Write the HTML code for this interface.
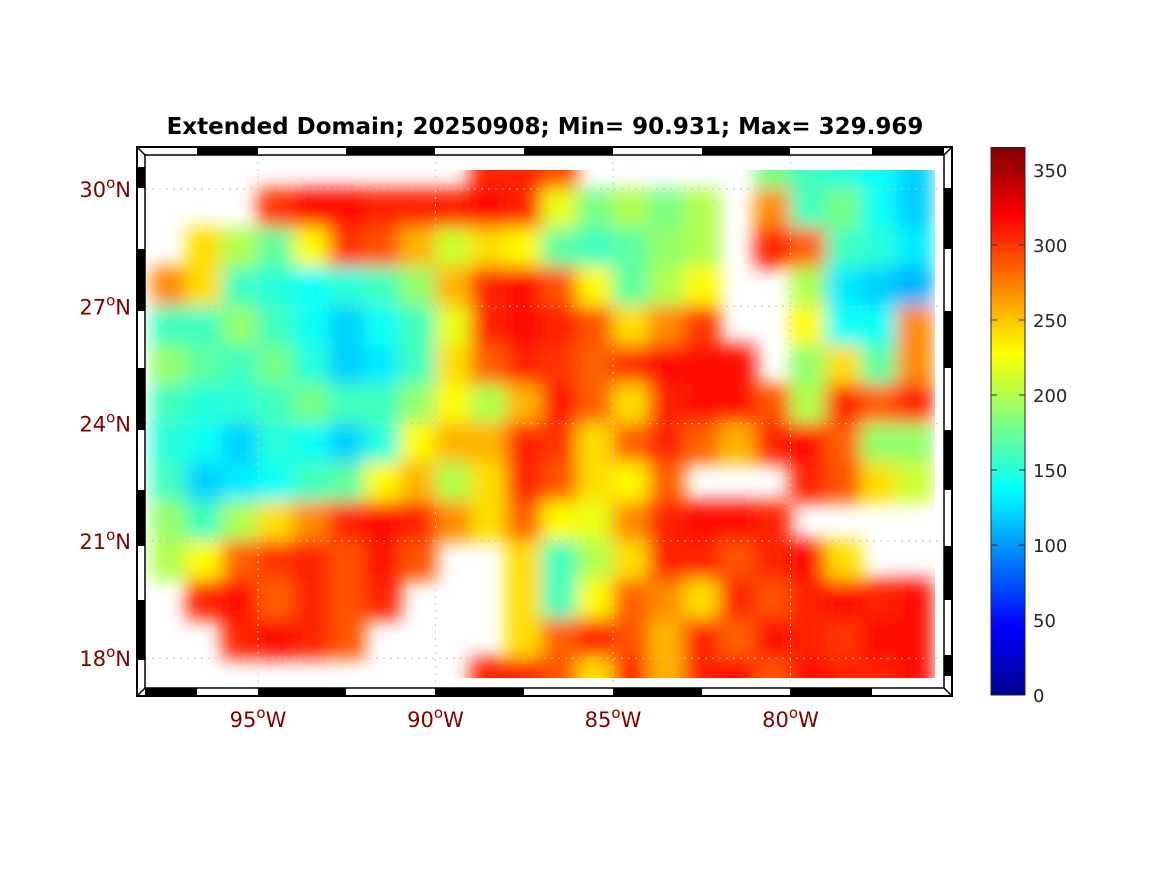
<!DOCTYPE html>
<html><head><meta charset="utf-8">
<style>
html,body{margin:0;padding:0;background:#fff;}
svg{display:block;font-family:"DejaVu Sans","Liberation Sans",sans-serif;}
</style></head>
<body>
<svg id="chart" width="1167" height="875" viewBox="0 0 1167 875">
<defs>
<clipPath id="dataClip"><rect x="146" y="170" width="789" height="508"/></clipPath>
<filter id="smooth" x="-5%" y="-5%" width="110%" height="110%"><feGaussianBlur stdDeviation="9"/></filter>
<linearGradient id="jet" x1="0" y1="1" x2="0" y2="0">
<stop offset="0" stop-color="#00008f"/><stop offset="0.125" stop-color="#0000ff"/>
<stop offset="0.375" stop-color="#00ffff"/><stop offset="0.625" stop-color="#ffff00"/>
<stop offset="0.875" stop-color="#ff0000"/><stop offset="1" stop-color="#800000"/>
</linearGradient>
</defs>
<text x="545" y="134" text-anchor="middle" font-size="23" font-weight="bold" fill="#000">Extended Domain; 20250908; Min= 90.931; Max= 329.969</text>
<g id="heat" clip-path="url(#dataClip)"></g>
<g id="grid"></g>
<g id="frame"></g>
<g id="ticks"></g>
<g id="cbar"></g>
</svg>
<script>
const lonEdges0 = -98;
const latTop0 = 31;
const cbTicks = [0, 50, 100, 150, 200, 250, 300, 350];
const latTicks = [30, 27, 24, 21, 18];
const lonTicks = [-95, -90, -85, -80];
const N = null;
const row0  = [N,N,N,N,N,N,N,N,N,308,308,295,N,N,N,N,N,180,160,150,140,120];
const row1  = [N,N,N,300,315,315,308,308,308,315,308,220,180,200,180,200,N,270,160,180,140,120];
const row2  = [N,240,200,170,230,300,290,255,210,240,230,170,160,170,190,200,N,308,285,160,150,130];
const row3  = [270,240,160,150,140,150,160,190,255,308,315,290,230,170,200,230,N,N,200,130,120,110];
const row4  = [160,160,190,160,140,120,140,160,220,308,315,308,290,240,270,300,N,N,230,140,140,270];
const row5  = [190,170,160,180,150,120,130,160,240,285,308,300,285,300,315,315,315,N,190,240,170,270];
const row6  = [160,150,150,160,180,160,160,190,230,200,255,315,285,240,308,315,315,290,200,308,285,308];
const row7  = [150,140,120,150,140,120,150,230,255,255,308,300,240,285,308,285,255,308,315,285,190,190];
const row8  = [160,120,130,140,160,170,230,255,200,240,308,290,240,230,285,N,N,N,308,290,240,210];
const row9  = [190,160,200,240,270,308,315,308,270,240,285,230,220,270,308,315,315,308,N,N,N,N];
const row10 = [200,230,285,300,308,290,315,290,N,N,240,160,200,240,308,308,290,308,315,240,N,N];
const row11 = [N,308,315,285,308,290,308,N,N,N,240,160,230,285,270,240,308,290,308,315,308,315];
const row12 = [N,N,308,315,308,290,N,N,N,N,240,285,308,290,255,308,285,315,308,300,315,315];
const row13 = [N,N,N,N,N,N,N,N,N,308,308,290,240,308,255,308,315,290,315,308,308,315];
const rows = [row0,row1,row2,row3,row4,row5,row6,row7,row8,row9,row10,row11,row12,row13];

const NS = "http://www.w3.org/2000/svg";
function mk(tag, attrs, parent){const e=document.createElementNS(NS,tag);for(const k in attrs)e.setAttribute(k,attrs[k]);parent.appendChild(e);return e;}
function xScale(lon){return 258 + (lon + 95) * 35.5;}
function yScale(lat){return 189 + (30 - lat) * 39.1;}
function cbY(v){return 695 - v * 1.5;}
function jet(v){
  const t = Math.max(0, Math.min(1, v / 365));
  const f = x => Math.max(0, Math.min(1, x));
  const r = f(Math.min(4*t - 1.5, -4*t + 4.5));
  const g = f(Math.min(4*t - 0.5, -4*t + 3.5));
  const b = f(Math.min(4*t + 0.5, -4*t + 2.5));
  return `rgb(${Math.round(r*255)},${Math.round(g*255)},${Math.round(b*255)})`;
}
const heat = document.getElementById('heat');
const hg = mk('g', {filter:'url(#smooth)'}, heat);
rows.forEach((row, j) => {
  row.forEach((v, i) => {
    if (v === null) return;
    const x0 = xScale(lonEdges0 + i), x1 = xScale(lonEdges0 + i + 1);
    const y0 = yScale(latTop0 - j), y1 = yScale(latTop0 - j - 1);
    const r = mk('rect', {x:x0-0.5, y:y0-0.5, width:x1-x0+1, height:y1-y0+1, fill:jet(v)}, hg);
    
    
  });
});
const grid = document.getElementById('grid');
latTicks.forEach(l => {
  const ln = mk('line', {x1:145, x2:944, y1:yScale(l), y2:yScale(l), stroke:'#d9b9b9', 'stroke-width':1, 'stroke-dasharray':'2,5'}, grid);
  
  
});
lonTicks.forEach(l => {
  const ln = mk('line', {x1:xScale(l), x2:xScale(l), y1:155, y2:688, stroke:'#cccccc', 'stroke-width':1, 'stroke-dasharray':'2,5'}, grid);
  
  
});
const frame = document.getElementById('frame');
mk('rect', {x:137, y:147, width:815, height:549, fill:'none', stroke:'#000', 'stroke-width':2}, frame);
mk('rect', {x:145, y:155, width:799, height:533, fill:'none', stroke:'#000', 'stroke-width':1.5}, frame);
[[197,258],[346,435],[524,613],[702,790],[872,944]].forEach(s => mk('rect',{x:s[0],y:147,width:s[1]-s[0],height:8,fill:'#000'},frame));
[[145,197],[258,346],[435,524],[613,702],[790,872]].forEach(s => mk('rect',{x:s[0],y:688,width:s[1]-s[0],height:8,fill:'#000'},frame));
[[167,188],[249,311],[368,430],[490,546],[600,660]].forEach(s => mk('rect',{x:137,y:s[0],width:8,height:s[1]-s[0],fill:'#000'},frame));
[[188,249],[311,368],[430,490],[546,600],[655,676]].forEach(s => mk('rect',{x:944,y:s[0],width:8,height:s[1]-s[0],fill:'#000'},frame));
[[137,147,145,155],[952,147,944,155],[137,696,145,688],[952,696,944,688]].forEach(c => mk('line',{x1:c[0],y1:c[1],x2:c[2],y2:c[3],stroke:'#000','stroke-width':1.5},frame));
const ticks = document.getElementById('ticks');
latTicks.forEach(l => {
  const t = mk('text', {x:131, y:yScale(l)+8, 'text-anchor':'end', 'font-size':21, fill:'#800000'}, ticks);
  t.innerHTML = `${l}<tspan dy="-9" font-size="15">o</tspan><tspan dy="9">N</tspan>`;
  
  
});
lonTicks.forEach(l => {
  const t = mk('text', {x:xScale(l), y:727, 'text-anchor':'middle', 'font-size':21, fill:'#800000'}, ticks);
  t.innerHTML = `${-l}<tspan dy="-9" font-size="15">o</tspan><tspan dy="9">W</tspan>`;
  
  
});
const cbar = document.getElementById('cbar');
mk('rect', {x:991, y:cbY(365), width:34, height:cbY(0)-cbY(365), fill:'url(#jet)', stroke:'#262626', 'stroke-width':1}, cbar);
cbTicks.forEach(v => {
  mk('line', {x1:1019, x2:1025, y1:cbY(v), y2:cbY(v), stroke:'#262626', 'stroke-width':1}, cbar);
  mk('line', {x1:991, x2:997, y1:cbY(v), y2:cbY(v), stroke:'#262626', 'stroke-width':1}, cbar);
  const t = mk('text', {x:1033, y:cbY(v)+7, 'font-size':18, fill:'#262626'}, cbar);
  t.textContent = v;
  
  
});
</script>
</body></html>
